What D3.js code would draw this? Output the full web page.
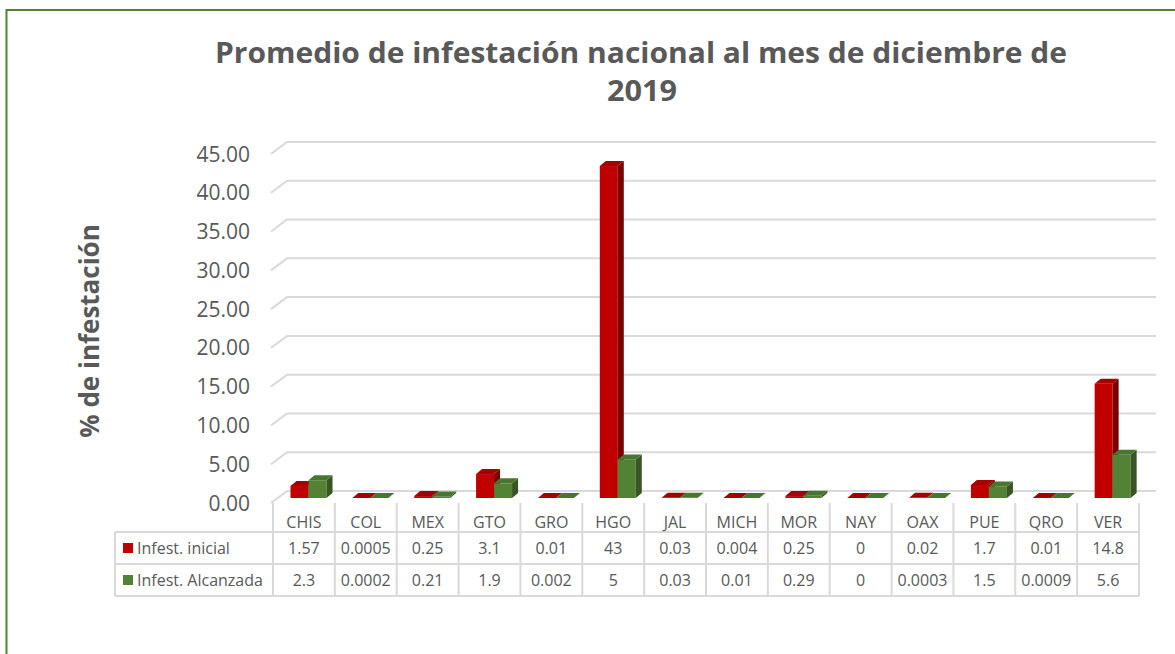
<!DOCTYPE html>
<html>
<head>
<meta charset="utf-8">
<script src="https://cdn.jsdelivr.net/npm/d3@7"></script>
<style>
  body { margin: 0; background: #fff; }
  text { font-family: "Open Sans", sans-serif; fill: #595959; }
</style>
</head>
<body>
<div id="main_plot"></div>
<script>
// data
var categories = ["CHIS", "COL", "MEX", "GTO", "GRO", "HGO", "JAL", "MICH", "MOR", "NAY", "OAX", "PUE", "QRO", "VER"];
var infestInicial = [1.57, 0.0005, 0.25, 3.1, 0.01, 43, 0.03, 0.004, 0.25, 0, 0.02, 1.7, 0.01, 14.8];
var infestAlcanzada = [2.3, 0.0002, 0.21, 1.9, 0.002, 5, 0.03, 0.01, 0.29, 0, 0.0003, 1.5, 0.0009, 5.6];
var inicialLabels = ["1.57", "0.0005", "0.25", "3.1", "0.01", "43", "0.03", "0.004", "0.25", "0", "0.02", "1.7", "0.01", "14.8"];
var alcanzadaLabels = ["2.3", "0.0002", "0.21", "1.9", "0.002", "5", "0.03", "0.01", "0.29", "0", "0.0003", "1.5", "0.0009", "5.6"];
var seriesNames = ["Infest. inicial", "Infest. Alcanzada"];
var yTicks = [0, 5, 10, 15, 20, 25, 30, 35, 40, 45];

var W = 1175, H = 654;
var grid = "#d9d9d9";
var faces = [
  {front: "#c00000", top: "#a30000", side: "#7a0000"},
  {front: "#548235", top: "#4a7530", side: "#375623"}
];

var svg = d3.select("#main_plot").append("svg")
  .attr("width", W).attr("height", H);

// green frame
svg.append("rect")
  .attr("x", 6.5).attr("y", 10).attr("width", 1190).attr("height", 700)
  .attr("fill", "#fff").attr("stroke", "#538135").attr("stroke-width", 2);

// title
var title = svg.append("g");
title.append("text")
  .attr("x", 641).attr("y", 62.5)
  .attr("text-anchor", "middle")
  .attr("font-size", 28).attr("font-weight", "bold")
  .attr("textLength", 852).attr("lengthAdjust", "spacingAndGlyphs")
  .text("Promedio de infestación nacional al mes de diciembre de");
title.append("text")
  .attr("x", 642).attr("y", 101)
  .attr("text-anchor", "middle")
  .attr("font-size", 28).attr("font-weight", "bold")
  .attr("textLength", 70).attr("lengthAdjust", "spacingAndGlyphs")
  .text("2019");

// back wall scale and front (bar) scale
var yBack = d3.scaleLinear().domain([0, 45]).range([491, 142]);
var yFront = d3.scaleLinear().domain([0, 45]).range([498, 150.6]);
var wallLeft = 287, wallRight = 1156, depthX = 16, depthY = 12;

// gridlines with the 3d floor/side offset
svg.append("g").selectAll("path")
  .data(yTicks)
  .join("path")
    .attr("fill", "none")
    .attr("stroke", grid)
    .attr("stroke-width", 2)
    .attr("d", function(d) {
      var yb = yBack(d);
      return "M" + (wallLeft - depthX) + "," + (yb + depthY) +
             "L" + wallLeft + "," + yb + "L" + wallRight + "," + yb;
    });

// y tick labels
svg.append("g").selectAll("text")
  .data(yTicks)
  .join("text")
    .attr("x", 250)
    .attr("y", function(d) { return yBack(d) + depthY; })
    .attr("dy", "0.36em")
    .attr("text-anchor", "end")
    .attr("font-size", 21)
    .text(function(d) { return d3.format(".2f")(d); });

// y axis title
svg.append("text")
  .attr("transform", "translate(99,331) rotate(-90)")
  .attr("text-anchor", "middle")
  .attr("font-size", 26).attr("font-weight", "bold")
  .text("% de infestación");

// categories
var x = d3.scaleBand().domain(categories).range([273, 1139]);
var xInner = d3.scaleBand().domain([0, 1]).range([17.5, 53.5]);
var barDX = 6, barDY = 5;

var series = [infestInicial, infestAlcanzada];
series.forEach(function(vals, s) {
  var g = svg.append("g");
  var data = categories.map(function(c, i) { return {cat: c, v: vals[i]}; });
  var bx = function(d) { return x(d.cat) + xInner(s); };
  var bw = xInner.bandwidth();

  // front face
  g.selectAll("rect.front")
    .data(data)
    .join("rect")
      .attr("class", "front")
      .attr("x", bx)
      .attr("y", function(d) { return yFront(d.v); })
      .attr("width", bw)
      .attr("height", function(d) { return yFront(0) - yFront(d.v); })
      .attr("fill", faces[s].front);

  // side face
  g.selectAll("path.side")
    .data(data)
    .join("path")
      .attr("class", "side")
      .attr("fill", faces[s].side)
      .attr("d", function(d) {
        var x1 = bx(d) + bw, yt = yFront(d.v), yb = yFront(0);
        return "M" + x1 + "," + yb + "L" + x1 + "," + yt +
               "L" + (x1 + barDX) + "," + (yt - barDY) +
               "L" + (x1 + barDX) + "," + (yb - barDY) + "Z";
      });

  // top face
  g.selectAll("path.top")
    .data(data)
    .join("path")
      .attr("class", "top")
      .attr("fill", faces[s].top)
      .attr("d", function(d) {
        var x0 = bx(d), yt = yFront(d.v);
        return "M" + x0 + "," + yt + "L" + (x0 + bw) + "," + yt +
               "L" + (x0 + bw + barDX) + "," + (yt - barDY) +
               "L" + (x0 + barDX) + "," + (yt - barDY) + "Z";
      });
});

// data table
var tableLeft = 115, rowLines = [532, 564, 596], rowMid = [548, 580];
var tbl = svg.append("g")
  .attr("stroke", grid).attr("stroke-width", 2);

rowLines.forEach(function(yy) {
  tbl.append("line")
    .attr("x1", tableLeft).attr("x2", x.range()[1])
    .attr("y1", yy).attr("y2", yy);
});
tbl.append("line")
  .attr("x1", tableLeft).attr("x2", tableLeft)
  .attr("y1", rowLines[0]).attr("y2", rowLines[2]);
tbl.selectAll("line.col")
  .data(categories.concat(["end"]))
  .join("line")
    .attr("class", "col")
    .attr("x1", function(d, i) { return x.range()[0] + i * x.step(); })
    .attr("x2", function(d, i) { return x.range()[0] + i * x.step(); })
    .attr("y1", 503).attr("y2", rowLines[2]);

// category header
svg.append("g").selectAll("text")
  .data(categories)
  .join("text")
    .attr("x", function(d) { return x(d) + x.bandwidth() / 2; })
    .attr("y", 522)
    .attr("dy", "0.36em")
    .attr("text-anchor", "middle")
    .attr("font-size", 16)
    .text(function(d) { return d; });

// value rows
[inicialLabels, alcanzadaLabels].forEach(function(labels, s) {
  svg.append("g").selectAll("text")
    .data(labels)
    .join("text")
      .attr("x", function(d, i) { return x(categories[i]) + x.bandwidth() / 2; })
      .attr("y", rowMid[s])
      .attr("dy", "0.36em")
      .attr("text-anchor", "middle")
      .attr("font-size", 16)
      .text(function(d) { return d; });

  // legend key
  svg.append("rect")
    .attr("x", 123).attr("y", rowMid[s] - 5)
    .attr("width", 10).attr("height", 10)
    .attr("fill", faces[s].front);
  svg.append("text")
    .attr("x", 137).attr("y", rowMid[s])
    .attr("dy", "0.36em")
    .attr("font-size", 16)
    .text(seriesNames[s]);
});
</script>
</body>
</html>
